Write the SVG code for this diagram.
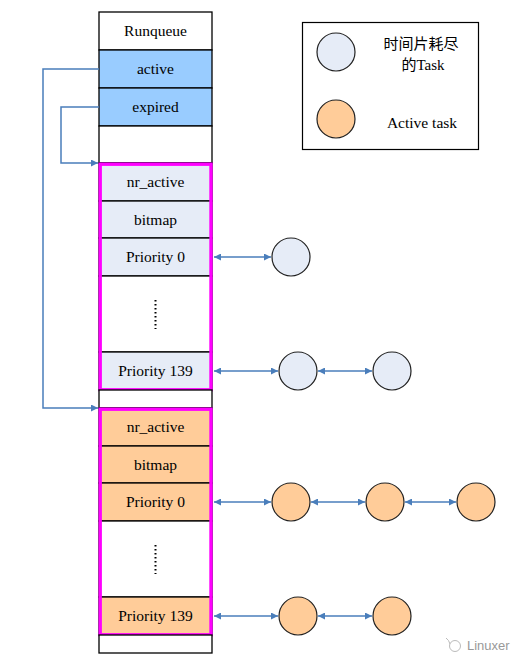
<svg xmlns="http://www.w3.org/2000/svg" width="528" height="667" viewBox="0 0 528 667">
<defs>
<style>
.cell{stroke:#000;stroke-width:1.3}
.w{fill:#fff}
.b{fill:#99CCFF}
.e{fill:#E6ECF7}
.o{fill:#FFCC99}
.mag{fill:none;stroke:#FF00FF;stroke-width:3.4}
.t{font-family:"Liberation Serif","Noto Sans CJK SC",serif;font-size:15.5px;fill:#000;text-anchor:middle}
.task{stroke:#222;stroke-width:1.2}
.conn{fill:none;stroke:#4A7EBB;stroke-width:1.5}
.lnk{fill:none;stroke:#4A7EBB;stroke-width:1.3}
.dots{stroke:#000;stroke-width:2;stroke-dasharray:1.5 2.5}
</style>
<marker id="ah" viewBox="0 0 10 10" refX="10" refY="5" markerWidth="10" markerHeight="7" markerUnits="userSpaceOnUse" orient="auto-start-reverse">
<path d="M0,0 L10,5 L0,10 z" fill="#4A7EBB"/>
</marker>
</defs>
<rect width="528" height="667" fill="#fff"/>

<g id="runqueue">
<rect class="cell w" x="99" y="12" width="113" height="38"/>
<text class="t" x="155.5" y="36">Runqueue</text>
<rect class="cell b" x="99" y="50" width="113" height="38"/>
<text class="t" x="155.5" y="74">active</text>
<rect class="cell b" x="99" y="88" width="113" height="38"/>
<text class="t" x="155.5" y="112">expired</text>
<rect class="cell w" x="99" y="126" width="113" height="37"/>
</g>

<g id="expired-array">
<rect class="cell e" x="99" y="163" width="113" height="38"/>
<text class="t" x="155.5" y="187">nr_active</text>
<rect class="cell e" x="99" y="201" width="113" height="37"/>
<text class="t" x="155.5" y="225">bitmap</text>
<rect class="cell e" x="99" y="238" width="113" height="38"/>
<text class="t" x="155.5" y="262">Priority 0</text>
<rect class="cell w" x="99" y="276" width="113" height="76"/>
<line class="dots" x1="155.5" y1="300" x2="155.5" y2="329"/>
<rect class="cell e" x="99" y="352" width="113" height="38"/>
<text class="t" x="155.5" y="376">Priority 139</text>
<rect class="mag" x="100.2" y="164.2" width="110.8" height="225.6"/>
</g>

<g id="gap">
<rect class="cell w" x="99" y="390" width="113" height="18"/>
</g>

<g id="active-array">
<rect class="cell o" x="99" y="408" width="113" height="38"/>
<text class="t" x="155.5" y="432">nr_active</text>
<rect class="cell o" x="99" y="446" width="113" height="37"/>
<text class="t" x="155.5" y="470">bitmap</text>
<rect class="cell o" x="99" y="483" width="113" height="38"/>
<text class="t" x="155.5" y="507">Priority 0</text>
<rect class="cell w" x="99" y="521" width="113" height="76"/>
<line class="dots" x1="155.5" y1="545" x2="155.5" y2="574"/>
<rect class="cell o" x="99" y="597" width="113" height="38"/>
<text class="t" x="155.5" y="621">Priority 139</text>
<rect class="mag" x="100.2" y="409.2" width="110.8" height="225.6"/>
</g>

<g id="tail">
<rect class="cell w" x="99" y="635" width="113" height="18"/>
</g>

<g id="tasks-expired">
<circle class="task e" cx="291" cy="257" r="19"/>
<circle class="task e" cx="298" cy="371" r="19"/>
<circle class="task e" cx="392" cy="371" r="19"/>
</g>

<g id="tasks-active">
<circle class="task o" cx="291" cy="502" r="19"/>
<circle class="task o" cx="385" cy="502" r="19"/>
<circle class="task o" cx="476" cy="502" r="19"/>
<circle class="task o" cx="298" cy="616" r="19"/>
<circle class="task o" cx="392" cy="616" r="19"/>
</g>

<g id="legend">
<rect x="302.5" y="22.5" width="176" height="127" fill="#fff" stroke="#000" stroke-width="1.2"/>
<circle class="task e" cx="336" cy="52" r="19"/>
<text class="t" x="421" y="49" style="font-size:15px">时间片耗尽</text>
<text class="t" x="423" y="70" style="font-size:15px">的Task</text>
<circle class="task o" cx="336" cy="119" r="19"/>
<text class="t" x="422" y="128">Active task</text>
</g>

<g id="connectors">
<path class="conn" d="M99,69 H43 V408 H98" marker-end="url(#ah)"/>
<path class="conn" d="M99,107 H61 V163 H98" marker-end="url(#ah)"/>
<line class="lnk" x1="214" y1="257" x2="271" y2="257" marker-start="url(#ah)" marker-end="url(#ah)"/>
<line class="lnk" x1="214" y1="371" x2="278" y2="371" marker-start="url(#ah)" marker-end="url(#ah)"/>
<line class="lnk" x1="318" y1="371" x2="372" y2="371" marker-start="url(#ah)" marker-end="url(#ah)"/>
<line class="lnk" x1="214" y1="502" x2="271" y2="502" marker-start="url(#ah)" marker-end="url(#ah)"/>
<line class="lnk" x1="311" y1="502" x2="365" y2="502" marker-start="url(#ah)" marker-end="url(#ah)"/>
<line class="lnk" x1="405" y1="502" x2="456" y2="502" marker-start="url(#ah)" marker-end="url(#ah)"/>
<line class="lnk" x1="214" y1="616" x2="278" y2="616" marker-start="url(#ah)" marker-end="url(#ah)"/>
<line class="lnk" x1="318" y1="616" x2="372" y2="616" marker-start="url(#ah)" marker-end="url(#ah)"/>
</g>

<g id="watermark">
<circle cx="455" cy="646" r="5.5" fill="none" stroke="#bbb" stroke-width="1"/>
<path d="M446,638 q3,2 4,6" fill="none" stroke="#bbb" stroke-width="1"/>
<text x="467" y="650" style="font-family:'Liberation Sans',sans-serif;font-size:13px;fill:#999">Linuxer</text>
</g>
</svg>
